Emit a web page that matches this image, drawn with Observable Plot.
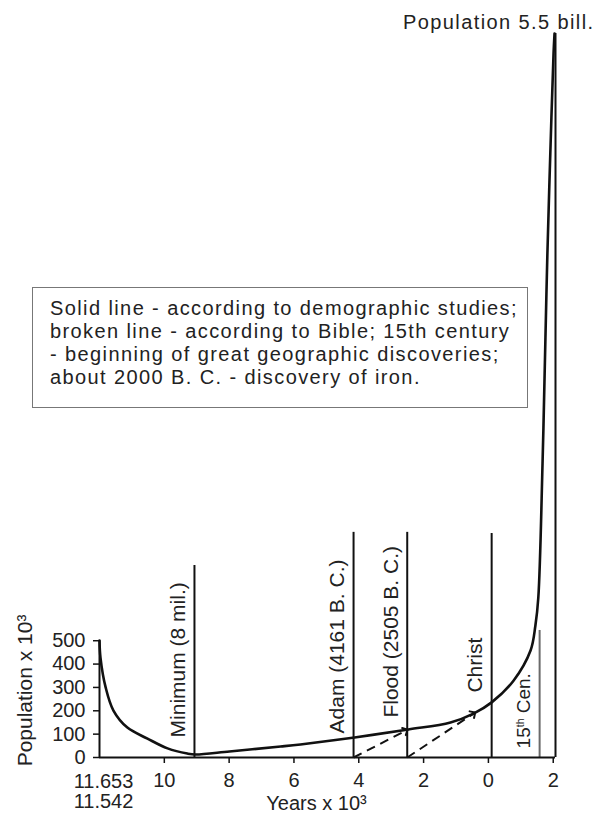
<!DOCTYPE html>
<html><head><meta charset="utf-8">
<script src="https://cdn.jsdelivr.net/npm/d3@7"></script>
<script src="https://cdn.jsdelivr.net/npm/@observablehq/plot@0.6"></script>
<style>
body{margin:0;background:#fff;}
#wrap{position:relative;width:606px;height:822px;font-family:"Liberation Sans",Arial,sans-serif;color:#222;}
#note{position:absolute;left:32px;top:287px;width:496px;height:121px;box-sizing:border-box;border:1.5px solid #777;background:#fff;padding:9px 0 0 17px;font-size:20px;line-height:23px;letter-spacing:1.4px;white-space:nowrap;color:#222;}
</style></head><body><div id="wrap"><div id="chart"></div><div id="note"></div></div>
<script>
// Solid curve: demographic estimate (years x 10^3, negative = B.C.; population x 10^3)
const years = [-12, -11.97, -11.81, -11.57, -11.14, -10.52, -9.90, -9.29, -9.04, -7.99, -6.41, -5.80, -4.13, -2.47, -1.17, -0.46, 0.10, 0.78, 1.30, 1.45, 1.54, 1.67, 1.76, 1.82, 1.91, 2.01, 2.04];
const population = [501, 428, 300, 201, 128, 81, 39, 17, 13, 26, 47, 56, 86, 120, 150, 188, 236, 330, 458, 565, 685, 1259, 1799, 2158, 2587, 3015, 3100];

// Events (vertical lines)
const eventNames = ["Minimum (8 mil.)", "Adam (4161 B. C.)", "Flood (2505 B. C.)", "Christ", "15th Cen."];
const eventYears = [-9.07, -4.161, -2.505, 0.1, 1.58];
const eventTops = [822, 964, 964, 959, 544];
const presentYear = 2.07;
const presentPop = 3100;

// Broken line (Bible)
const bibleFrom = [-4.161, -2.505];
const bibleToYear = [-2.55, -0.46];
const bibleToPop = [115, 188];

// Axes
const yTicks = [0, 100, 200, 300, 400, 500];
const xTicks = [-10, -8, -6, -4, -2, 0, 2];
const xTickLabels = ["10", "8", "6", "4", "2", "0", "2"];
const firstYearLabels = ["11.653", "11.542"];
const xTitle = "Years x 10\u00B3";
const yTitle = "Population x 10\u00B3";
const topLabel = "Population 5.5 bill.";
const noteLines = [
  "Solid line - according to demographic studies;",
  "broken line - according to Bible; 15th century",
  "- beginning of great geographic discoveries;",
  "about 2000 B. C. - discovery of iron."
];

// label placement (bottom of rotated labels, in population units)
const labelBase = [86, 103, 171, 278, 39];

const curve = years.map((x, i) => ({x, y: population[i]}));
const idx = d3.range(eventNames.length);

const chart = Plot.plot({
  width: 606, height: 822,
  marginLeft: 99, marginRight: 51, marginTop: 33, marginBottom: 65,
  style: {fontFamily: "Liberation Sans, Arial, sans-serif", fontSize: "20px", color: "#222", background: "#fff"},
  x: {domain: [-12, presentYear]},
  y: {domain: [0, presentPop]},
  marks: [
    Plot.ruleX(idx, {x: i => eventYears[i], y1: 0, y2: i => eventTops[i], stroke: i => i === 4 ? "#6a6a6a" : "#111", strokeWidth: 2}),
    Plot.ruleX([presentYear], {y1: 0, y2: presentPop, stroke: "#111", strokeWidth: 2}),
    Plot.link(d3.range(bibleFrom.length), {x1: i => bibleFrom[i], y1: 0, x2: i => bibleToYear[i], y2: i => bibleToPop[i], stroke: "#111", strokeWidth: 2, strokeDasharray: "9,6", markerEnd: "arrow"}),
    Plot.line(curve, {x: "x", y: "y", curve: "catmull-rom", stroke: "#111", strokeWidth: 2.6}),
    Plot.ruleY([0], {x1: -12, x2: presentYear, stroke: "#111", strokeWidth: 2}),
    Plot.ruleX([-12], {y1: 0, y2: 500, stroke: "#111", strokeWidth: 2}),
    Plot.axisY({ticks: yTicks, tickSize: 6, tickPadding: 8, label: null, fontSize: 20, strokeWidth: 1.5, stroke: "#111"}),
    Plot.axisX({ticks: xTicks, tickFormat: (d) => xTickLabels[xTicks.indexOf(d)], tickSize: 6, tickPadding: 9, label: null, fontSize: 20, strokeWidth: 1.5, stroke: "#111"}),
    Plot.text([firstYearLabels.join("\n")], {x: -12, y: 0, dx: 4, dy: 16, lineAnchor: "top", lineHeight: 1, fontSize: 20, fill: "#222"}),
    Plot.text([xTitle], {frameAnchor: "bottom", dx: -11, dy: 52, fontSize: 20, fill: "#222"}),
    Plot.text([yTitle], {x: -12, y: 287, rotate: -90, dx: -74, fontSize: 21, fill: "#222"}),
    Plot.text(idx, {x: i => eventYears[i], y: i => labelBase[i], text: i => eventNames[i], rotate: -90, textAnchor: "start", dx: -16, fontSize: i => i === 4 ? 19 : 21, fill: "#222"}),
    Plot.text([topLabel], {x: presentYear, y: presentPop, dx: 39, dy: -11, textAnchor: "end", fontSize: 20, fill: "#222"})
  ]
});
const svg = d3.select(chart);
svg.selectAll("text").filter(function() { return this.textContent === topLabel; }).style("letter-spacing", "1.4px");
// superscript "th" in the 15th century label
svg.selectAll("text").filter(function() { return this.textContent === "15th Cen."; }).each(function() {
  const t = d3.select(this);
  t.text(null);
  t.append("tspan").text("15");
  t.append("tspan").attr("dy", "-0.55em").attr("font-size", "0.55em").text("th");
  t.append("tspan").attr("dy", "0.3em").text(" Cen.");
});
document.getElementById("chart").appendChild(chart);
document.getElementById("note").innerHTML = noteLines.join("<br>");
</script>
</body></html>
